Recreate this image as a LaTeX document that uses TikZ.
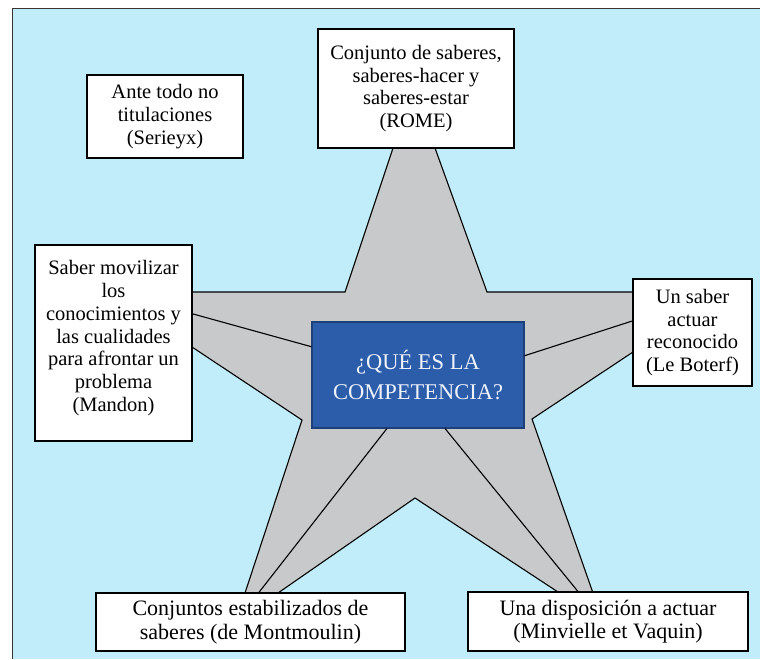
\documentclass[tikz,border=0pt]{standalone}
\usepackage{fontspec}
\setmainfont{Liberation Serif}
\usetikzlibrary{calc}
\definecolor{bgcyan}{HTML}{C0EDF9}
\definecolor{stargray}{HTML}{C8C9CB}
\definecolor{qblue}{HTML}{2B5DAA}
\definecolor{qborder}{HTML}{1E3F78}
\definecolor{qtext}{HTML}{EEF2FA}
\definecolor{framecol}{HTML}{3A3430}
\begin{document}
\begin{tikzpicture}[x=1pt,y=-1pt,
  box/.style={draw=black,line width=1.1pt,fill=white,inner sep=0pt,align=center,
    font=\fontsize{20.5}{22.8}\selectfont},
  widebox/.style={box,font=\fontsize{22}{23.5}\selectfont},
  qbox/.style={draw=qborder,line width=1.1pt,fill=qblue,text=qtext,inner sep=0pt,align=center,
    font=\fontsize{22.5}{30}\selectfont},
  link/.style={draw=black,line width=1.1pt}]
\useasboundingbox (0,0) rectangle (760,659);
\fill[white] (0,0) rectangle (760,659);
\fill[bgcyan] (12,8) rectangle (760,659);
\draw[framecol,line width=1pt] (12,659) -- (12,8) -- (760,8);
% star
\filldraw[fill=stargray,draw=black,line width=1.1pt,line join=miter]
  (393,148) -- (345,292) -- (192,292) -- (192,347) -- (302,420) -- (245,593)
  -- (278,593) -- (415,498) -- (558,592) -- (593,593) -- (532,419) -- (633,352)
  -- (633,292) -- (487,292) -- (435,148) -- cycle;
% boxes
\node[qbox,minimum width=212,minimum height=106] (q) at (418,375) {¿QUÉ ES LA\\COMPETENCIA?};
\node[box,minimum width=196,minimum height=119] (rome) at (416,88.5)
  {Conjunto de saberes,\\saberes-hacer y\\saberes-estar\\(ROME)};
\node[box,minimum width=156,minimum height=83] (ser) at (165,116.5)
  {Ante todo no\\titulaciones\\(Serieyx)};
\node[box,minimum width=157,minimum height=196,text depth=14pt] (man) at (113.5,343)
  {Saber movilizar\\los\\conocimientos y\\las cualidades\\para afrontar un\\problema\\(Mandon)};
\node[box,minimum width=119,minimum height=107] (bot) at (692.5,332.5)
  {Un saber\\actuar\\reconocido\\(Le Boterf)};
\node[widebox,minimum width=309,minimum height=58] (mon) at (250.5,622)
  {Conjuntos estabilizados de\\saberes (de Montmoulin)};
\node[widebox,minimum width=280,minimum height=59] (vaq) at (608,621.5)
  {Una disposición a actuar\\(Minvielle et Vaquin)};
% connectors
\draw[link] ($(q.north west)!0.486!(q.north east)$) -- ($(q.north west)!0.486!(q.north east)$ |- rome.south);
\draw[link] ($(man.north east)!0.352!(man.south east)$) -- ($(q.north west)!0.236!(q.south west)$);
\draw[link] ($(q.north east)!0.32!(q.south east)$) -- ($(bot.north west)!0.393!(bot.south west)$);
\draw[link] ($(q.south west)!0.354!(q.south east)$) -- ($(mon.north west)!0.527!(mon.north east)$);
\draw[link] ($(q.south west)!0.627!(q.south east)$) -- ($(vaq.north west)!0.393!(vaq.north east)$);
\end{tikzpicture}
\end{document}
